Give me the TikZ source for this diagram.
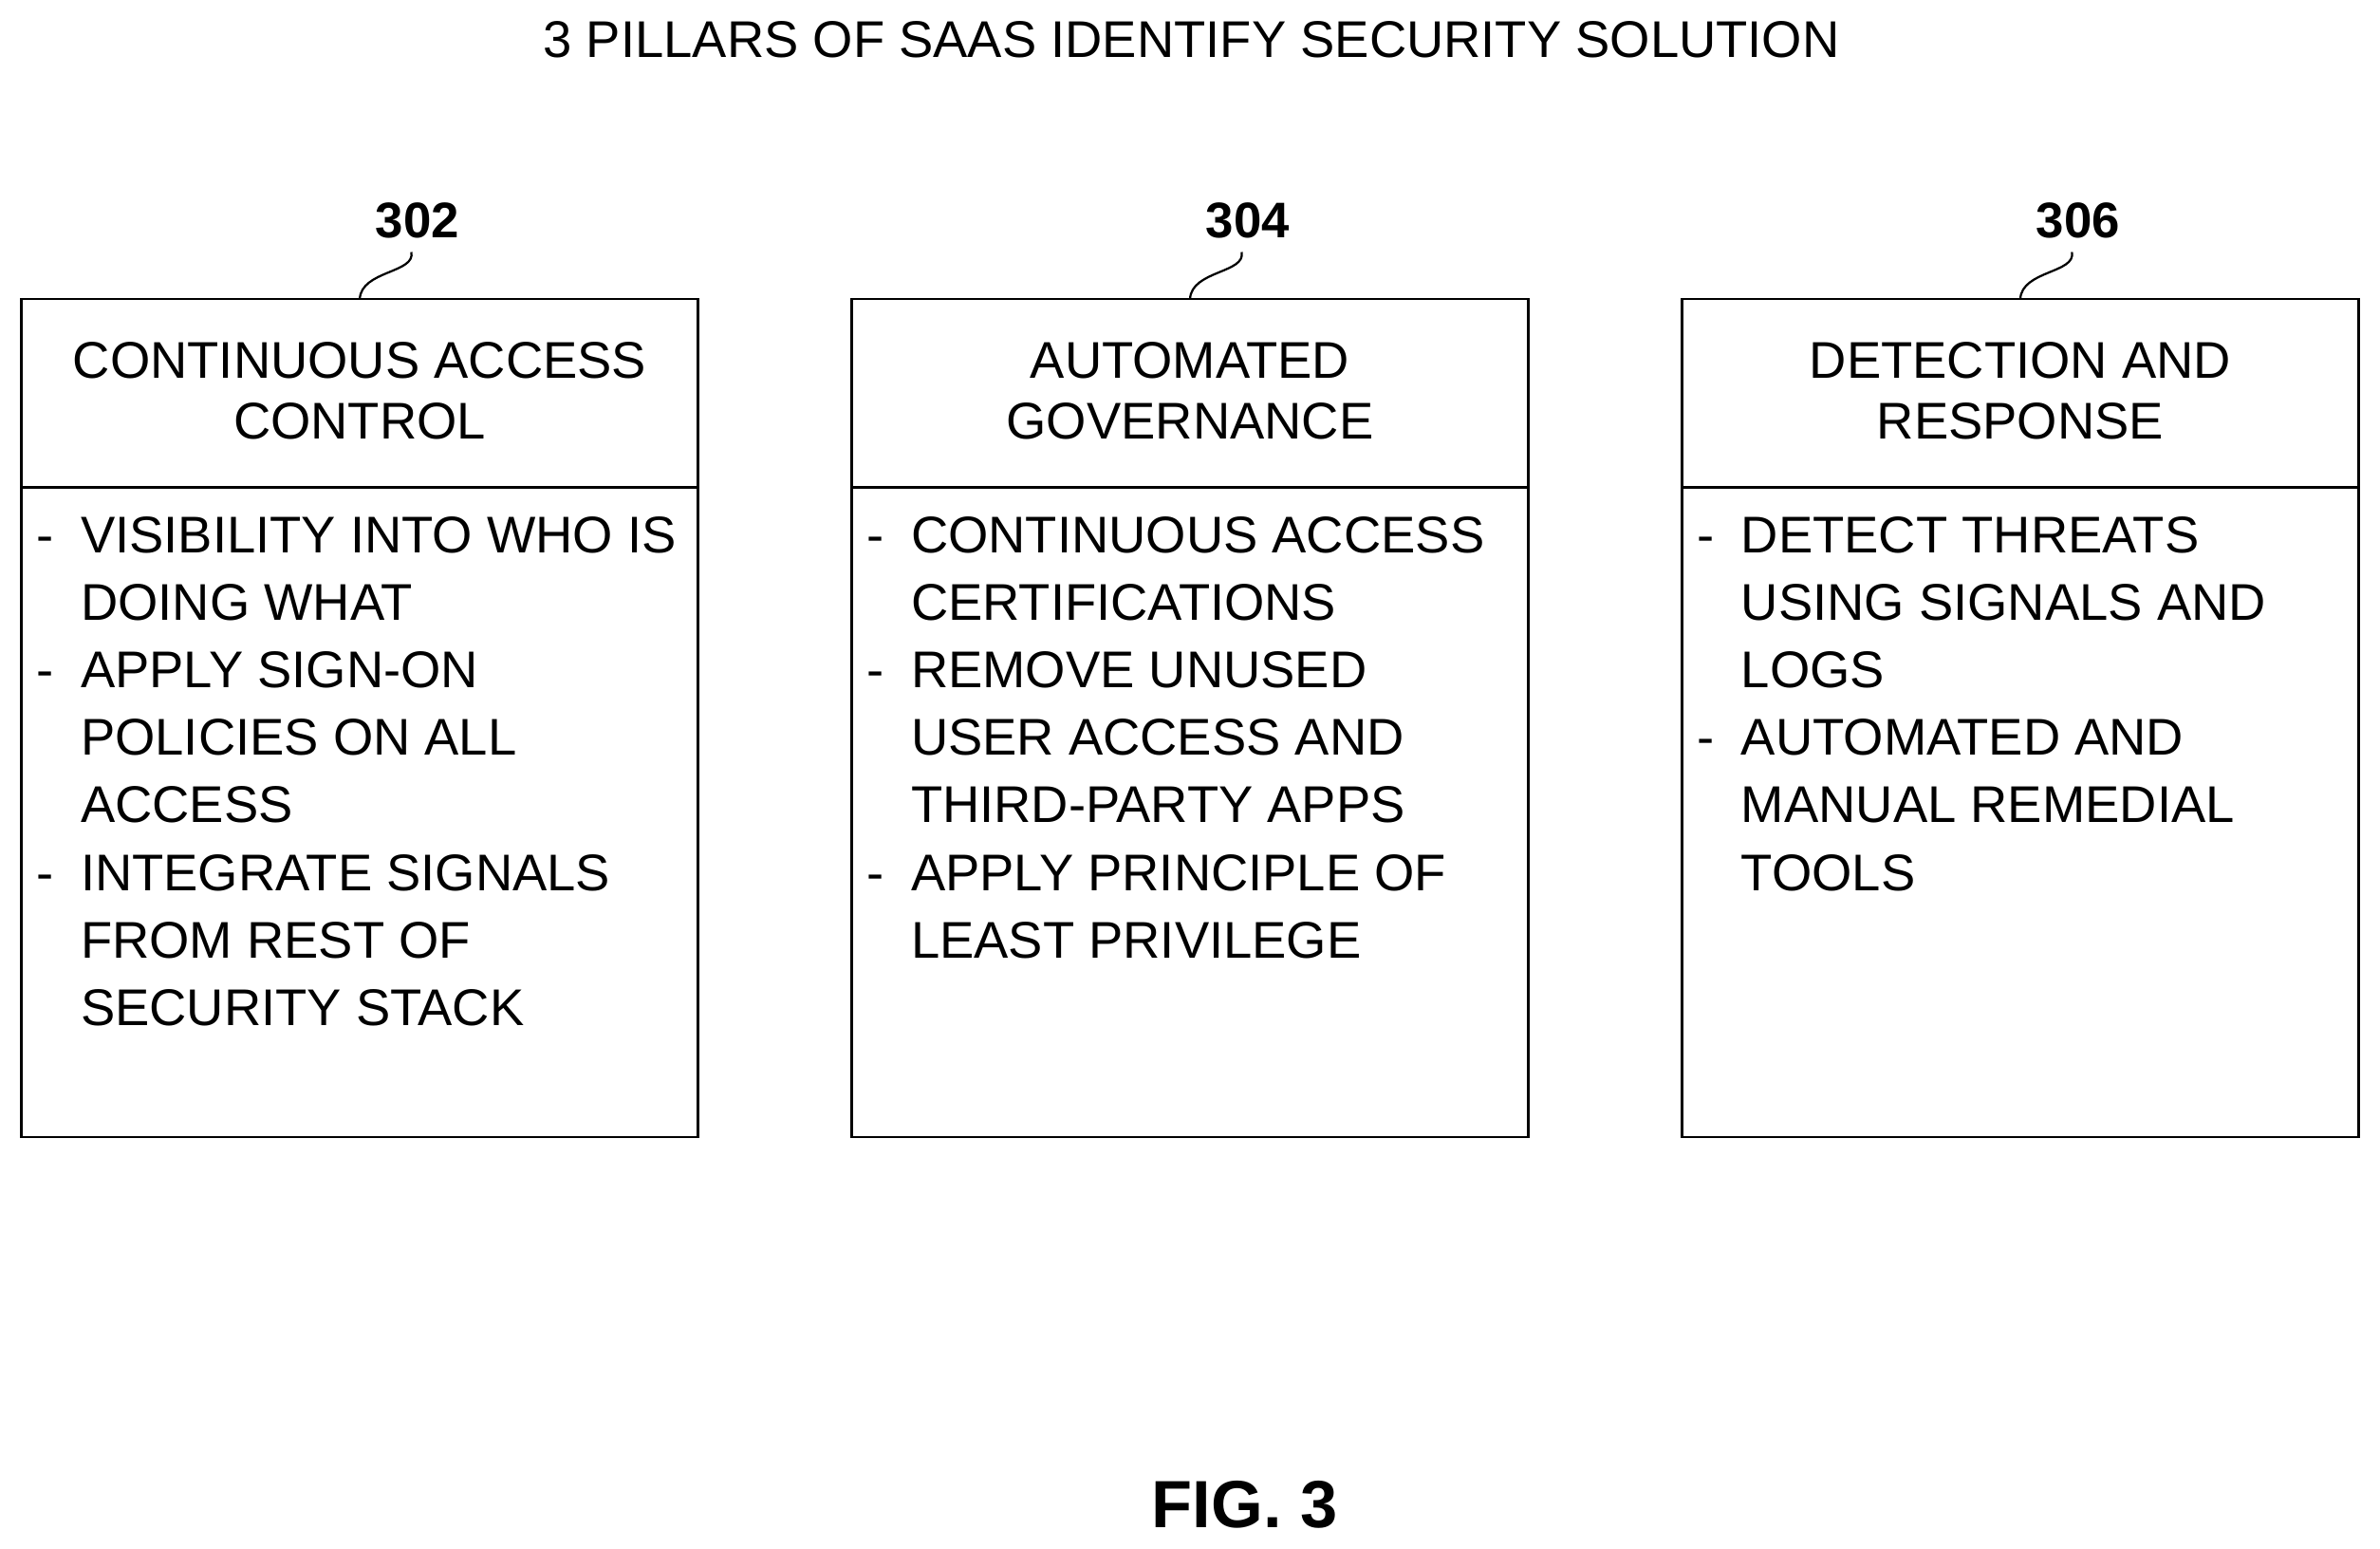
\documentclass[tikz,border=0pt]{standalone}
\usepackage{fontspec}
\setmainfont{Liberation Sans}
\begin{document}
\begin{tikzpicture}[x=1pt,y=-1pt,
  box/.style={draw,line width=1.6pt},
  txt/.style={anchor=base west,inner sep=0pt,align=left,font=\fontsize{34}{44.5}\selectfont},
  hdr/.style={anchor=base,inner sep=0pt,align=center,font=\fontsize{34}{40}\selectfont},
  num/.style={inner sep=0pt,font=\fontsize{33}{36}\selectfont\bfseries},
  lead/.style={line width=1.4pt}]
\useasboundingbox (0,0) rectangle (1568,1020);
\node[anchor=base,inner sep=0pt,font=\fontsize{34}{38}\selectfont] (title) at (785,38) {3 PILLARS OF SAAS IDENTIFY SECURITY SOLUTION};
\foreach \i/\x/\n in {1/14/302,2/561/304,3/1108/306}{
  \draw[box] (\x,197) rectangle (\x+446,749);
  \draw[box] (\x,321) -- (\x+446,321);
  \node[num] (n\i) at (\x+261,145) {\n};
  \coordinate (a\i) at (\x+257,166);
  \coordinate (b\i) at (\x+223,197);
  \draw[lead] (a\i) .. controls (\x+260,180) and (\x+224,178) .. (b\i);
}
\node[hdr] (h1) at (237,289) {CONTINUOUS ACCESS\\CONTROL};
\node[hdr] (h2) at (784,289) {AUTOMATED\\GOVERNANCE};
\node[hdr] (h3) at (1331,289) {DETECTION AND\\RESPONSE};
% box 1
\node[txt] (d11) at (24,364) {-};
\node[txt] (t11) at (53,408.5) {VISIBILITY INTO WHO IS\\DOING WHAT};
\node[txt] (d12) at (24,453) {-};
\node[txt] (t12) at (53,542) {APPLY SIGN-ON\\POLICIES ON ALL\\ACCESS};
\node[txt] (d13) at (24,586.5) {-};
\node[txt] (t13) at (53,675.5) {INTEGRATE SIGNALS\\FROM REST OF\\SECURITY STACK};
% box 2
\node[txt] (d21) at (571,364) {-};
\node[txt] (t21) at (600,408.5) {CONTINUOUS ACCESS\\CERTIFICATIONS};
\node[txt] (d22) at (571,453) {-};
\node[txt] (t22) at (600,542) {REMOVE UNUSED\\USER ACCESS AND\\THIRD-PARTY APPS};
\node[txt] (d23) at (571,586.5) {-};
\node[txt] (t23) at (600,631) {APPLY PRINCIPLE OF\\LEAST PRIVILEGE};
% box 3
\node[txt] (d31) at (1118,364) {-};
\node[txt] (t31) at (1147,453) {DETECT THREATS\\USING SIGNALS AND\\LOGS};
\node[txt] (d32) at (1118,497.5) {-};
\node[txt] (t32) at (1147,586.5) {AUTOMATED AND\\MANUAL REMEDIAL\\TOOLS};
\node[anchor=base,inner sep=0pt,font=\fontsize{44}{48}\selectfont\bfseries] (fig) at (820,1006) {FIG. 3};
\end{tikzpicture}
\end{document}
